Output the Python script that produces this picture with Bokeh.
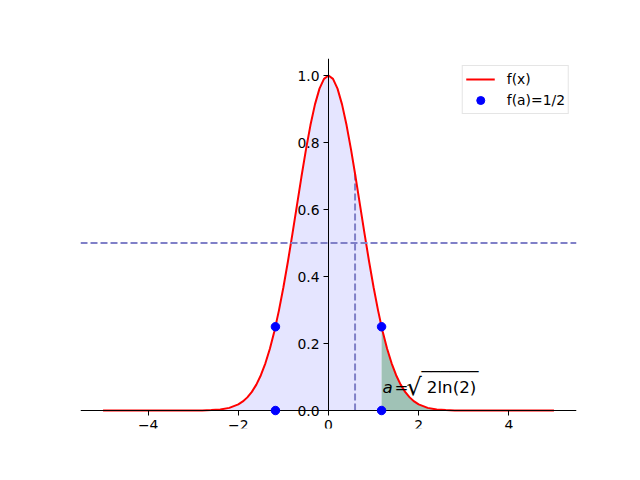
from bokeh.plotting import figure
from bokeh.models import Span, Label, Legend, LegendItem, FixedTicker
from bokeh.embed import file_html
from bokeh.resources import INLINE

# ---- data ----
x_vals = [-5.0, -4.0, -3.5, -3.0, -2.8, -2.6, -2.4, -2.2, -2.0, -1.9, -1.8, -1.7,
          -1.6, -1.5, -1.4, -1.3, -1.2, -1.1, -1.0, -0.9, -0.8, -0.7, -0.6, -0.5,
          -0.4, -0.3, -0.2, -0.1, 0.0, 0.1, 0.2, 0.3, 0.4, 0.5, 0.6, 0.7, 0.8, 0.9,
          1.0, 1.1, 1.177, 1.2, 1.3, 1.4, 1.5, 1.6, 1.7, 1.8, 1.9, 2.0, 2.2, 2.4,
          2.6, 2.8, 3.0, 3.5, 4.0, 5.0]
y_vals = [0.0, 0.0, 0.0, 0.0001, 0.0004, 0.0012, 0.0032, 0.0079, 0.0183, 0.0271, 0.0392, 0.0556,
          0.0773, 0.1054, 0.1409, 0.1845, 0.2369, 0.2982, 0.3679, 0.4449, 0.5273, 0.6126, 0.6977, 0.7788,
          0.8521, 0.9139, 0.9608, 0.9900, 1.0, 0.9900, 0.9608, 0.9139, 0.8521, 0.7788, 0.6977, 0.6126, 0.5273, 0.4449,
          0.3679, 0.2982, 0.25, 0.2369, 0.1845, 0.1409, 0.1054, 0.0773, 0.0556, 0.0392, 0.0271, 0.0183, 0.0079, 0.0032,
          0.0012, 0.0004, 0.0001, 0.0, 0.0, 0.0]

a_val = 1.177          # a = sqrt(2 ln 2)
half = 0.5             # horizontal reference level
a_half = 0.589         # position of vertical dashed line
f_a_half = 0.707       # curve value there
pts_x = [-1.177, 1.177, -1.177, 1.177]
pts_y = [0.25, 0.25, 0.0, 0.0]
label_x, label_y = 1.2, 0.05

x_ticks = [-4, -2, 0, 2, 4]
x_tick_labels = ["\u22124", "\u22122", "0", "2", "4"]
y_ticks = [0.0, 0.2, 0.4, 0.6, 0.8, 1.0]
y_tick_labels = ["0.0", "0.2", "0.4", "0.6", "0.8", "1.0"]

# ---- figure ----
p = figure(frame_width=496, frame_height=370,
           x_range=(-5.5, 5.5), y_range=(-0.0537, 1.0508),
           output_backend="svg", toolbar_location=None,
           min_border_left=80, min_border_right=48,
           min_border_top=58, min_border_bottom=44)
p.grid.visible = False
p.outline_line_color = None
p.background_fill_color = "white"

DASH_COLOR = "#8080c8"

# fills
xb = [x for x in x_vals if x <= a_val]
yb = [y for x, y in zip(x_vals, y_vals) if x <= a_val]
xg = [x for x in x_vals if x >= a_val]
yg = [y for x, y in zip(x_vals, y_vals) if x >= a_val]
p.varea(x=xb, y1=[0] * len(xb), y2=yb, fill_color="blue", fill_alpha=0.1)
p.varea(x=xg, y1=[0] * len(xg), y2=yg, fill_color="#a0c2b6", fill_alpha=1.0)

# reference lines
p.add_layout(Span(location=half, dimension="width", line_color=DASH_COLOR,
                  line_width=2, line_dash="7 3"))
p.segment(x0=[a_half], y0=[0], x1=[a_half], y1=[f_a_half],
          line_color=DASH_COLOR, line_width=2, line_dash="7 3")

# curve & points
r_line = p.line(x_vals, y_vals, line_color="red", line_width=2)
r_pts = p.scatter(pts_x, pts_y, size=8.5, color="blue", level="overlay")

# axes through zero
for ax in (p.xaxis, p.yaxis):
    ax.fixed_location = 0
    ax.axis_line_width = 1
    ax.axis_line_color = "black"
    ax.major_tick_line_width = 1
    ax.major_tick_out = 5
    ax.major_tick_in = 0
    ax.minor_tick_out = 0
    ax.minor_tick_in = 0
    ax.major_label_text_font = "DejaVu Sans"
    ax.major_label_text_font_size = "13.9px"
    ax.major_label_text_color = "black"
    ax.major_label_standoff = 4
p.xaxis.ticker = FixedTicker(ticks=x_ticks)
p.xaxis.major_label_overrides = {t: l for t, l in zip(x_ticks, x_tick_labels)}
p.yaxis.ticker = FixedTicker(ticks=y_ticks)
p.yaxis.major_label_overrides = {t: l for t, l in zip(y_ticks, y_tick_labels)}
p.yaxis.bounds = (0, 1.0508)

# annotation text  a = sqrt(2ln(2))
TXT = dict(text_font="DejaVu Sans", text_baseline="alphabetic", text_color="black")
p.add_layout(Label(x=label_x, y=label_y, y_offset=7, text="a",
                   text_font_style="italic", text_font_size="16.7px", **TXT))
p.add_layout(Label(x=label_x, y=label_y, y_offset=7, x_offset=12, text="=",
                   text_font_size="16.7px", **TXT))
p.add_layout(Label(x=label_x, y=label_y, y_offset=7, x_offset=24, text="\u221a",
                   text_font_size="24px", **TXT))
p.add_layout(Label(x=label_x, y=label_y, y_offset=7, x_offset=44.2, text="2ln(2)",
                   text_font_size="16.7px", **TXT))
p.add_layout(Label(x=label_x, y=label_y, y_offset=15, x_offset=39, text="\u203e" * 6,
                   text_font_size="19px", **TXT))

legend = Legend(items=[LegendItem(label="f(x)", renderers=[r_line]),
                       LegendItem(label="f(a)=1/2", renderers=[r_pts])],
                location="top_right", margin=7, padding=3, spacing=1,
                label_height=20, glyph_height=20, glyph_width=29,
                label_standoff=12, border_line_color="#cccccc",
                background_fill_alpha=0.8, label_text_color="black",
                label_text_font="DejaVu Sans", label_text_font_size="13.9px")
p.add_layout(legend)

open("out.html", "w").write(file_html(p, INLINE))
